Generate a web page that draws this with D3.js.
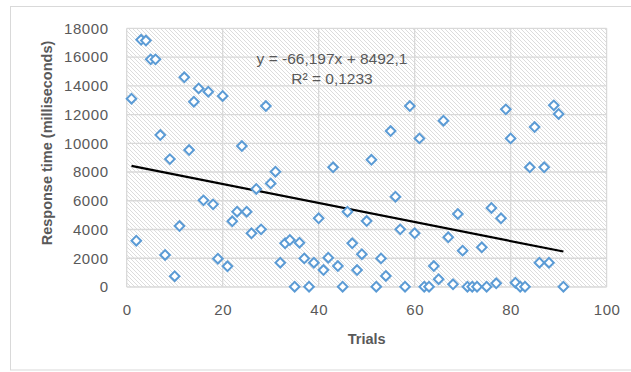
<!DOCTYPE html>
<html>
<head>
<meta charset="utf-8">
<script src="https://cdn.jsdelivr.net/npm/d3@7"></script>
<style>
  body { margin: 0; background: #fff; }
  text { font-family: "Liberation Sans", Arial, sans-serif; fill: #595959; }
</style>
</head>
<body>
<div id="chart"></div>
<script>
let width = 631,
	height = 372;

// trials 1..91 and their response times (ms)
let trials = d3.range(1, 92);
let responseTimes = [
	13100, 3220, 17200, 17150, 15840, 15840, 10575, 2230, 8900, 750,
	4240, 14590, 9530, 12890, 13820, 6030, 13590, 5750, 1970, 13290,
	1440, 4570, 5240, 9810, 5240, 3740, 6820, 4010, 12590, 7210,
	8020, 1690, 3040, 3270, 20, 3080, 1990, 20, 1690, 4780,
	1180, 2040, 8330, 1460, 20, 5240, 3040, 1180, 2280, 4590,
	8850, 20, 1990, 770, 10850, 6280, 4010, 20, 12590, 3740,
	10340, 20, 20, 1460, 540, 11570, 3460, 190, 5080, 2530,
	20, 20, 20, 2760, 20, 5500, 260, 4780, 12360, 10340,
	300, 20, 20, 8330, 11130, 1690, 8330, 1690, 12640, 12040,
	20
];
let xTicks = [0, 20, 40, 60, 80, 100];
let yTicks = [0, 2000, 4000, 6000, 8000, 10000, 12000, 14000, 16000, 18000];

// trendline as printed on the chart
let slope = -66.197,
	intercept = 8492.1;
let eqLabel = "y = -66,197x + 8492,1";
let r2Label = "R² = 0,1233";

let data = trials.map(function (t, i) { return { x: t, y: responseTimes[i] }; });

let plotLeft = 126.7, plotRight = 606.6, plotTop = 28.3, plotBottom = 287;

let x = d3.scaleLinear().domain([0, 100]).range([plotLeft, plotRight]);
let y = d3.scaleLinear().domain([0, 18000]).range([plotBottom, plotTop]);

let svg = d3.select('#chart').append('svg')
	.attr('width', width)
	.attr('height', height);

// hatch fill of the plot area
let defs = svg.append('defs');
defs.append('pattern')
	.attr('id', 'hatch')
	.attr('patternUnits', 'userSpaceOnUse')
	.attr('width', 4)
	.attr('height', 4)
	.append('path')
	.attr('d', 'M-1,-1L5,5M3,-1L5,1M-1,3L1,5')
	.attr('stroke', '#dcdcdc')
	.attr('stroke-width', 1);

// outer chart border
svg.append('rect')
	.attr('x', 10.5).attr('y', 6.5)
	.attr('width', 700).attr('height', 363.5)
	.attr('fill', 'none')
	.attr('stroke', '#d9d9d9');

svg.append('rect')
	.attr('x', plotLeft).attr('y', plotTop)
	.attr('width', plotRight - plotLeft).attr('height', plotBottom - plotTop)
	.attr('fill', 'url(#hatch)');

// gridlines
svg.append('g').selectAll('line')
	.data(yTicks).enter().append('line')
	.attr('x1', plotLeft).attr('x2', plotRight)
	.attr('y1', function (d) { return y(d); })
	.attr('y2', function (d) { return y(d); })
	.attr('stroke', '#d9d9d9').attr('stroke-width', 1.3);

svg.append('g').selectAll('line')
	.data(xTicks).enter().append('line')
	.attr('y1', plotTop).attr('y2', plotBottom)
	.attr('x1', function (d) { return x(d); })
	.attr('x2', function (d) { return x(d); })
	.attr('stroke', '#d9d9d9').attr('stroke-width', 1.3);

// axes (labels only)
let yAxis = d3.axisLeft(y).tickValues(yTicks).tickFormat(d3.format('d')).tickSize(0).tickPadding(18);
let xAxis = d3.axisBottom(x).tickValues(xTicks).tickFormat(d3.format('d')).tickSize(0).tickPadding(17);

svg.append('g').attr('transform', 'translate(' + plotLeft + ',0)').call(yAxis)
	.call(function (g) { g.select('.domain').remove(); });
svg.append('g').attr('transform', 'translate(0,' + plotBottom + ')').call(xAxis)
	.call(function (g) { g.select('.domain').remove(); });

svg.selectAll('.tick text')
	.attr('font-family', '"Liberation Sans", Arial, sans-serif')
	.attr('font-size', 15)
	.attr('letter-spacing', 0.6)
	.attr('fill', '#595959');

// trendline
svg.append('line')
	.attr('x1', x(1)).attr('y1', y(slope * 1 + intercept))
	.attr('x2', x(91)).attr('y2', y(slope * 91 + intercept))
	.attr('stroke', '#000')
	.attr('stroke-width', 2.2);

// markers
let diamond = d3.symbol().type(d3.symbolSquare).size(46);
svg.append('g').selectAll('path')
	.data(data).enter().append('path')
	.attr('d', diamond)
	.attr('transform', function (d) {
		return 'translate(' + x(d.x) + ',' + y(d.y) + ') rotate(45)';
	})
	.attr('fill', '#fff')
	.attr('stroke', '#5b9bd5')
	.attr('stroke-width', 2);

// equation labels
svg.append('text')
	.attr('x', 332).attr('y', 63.5)
	.attr('text-anchor', 'middle')
	.attr('font-size', 15.5)
	.text(eqLabel);
svg.append('text')
	.attr('x', 332).attr('y', 84)
	.attr('text-anchor', 'middle')
	.attr('font-size', 15.5)
	.text(r2Label);

// axis titles
svg.append('text')
	.attr('x', (plotLeft + plotRight) / 2).attr('y', 344)
	.attr('text-anchor', 'middle')
	.attr('font-size', 14.5)
	.attr('font-weight', 'bold')
	.text('Trials');

svg.append('text')
	.attr('transform', 'translate(52,143) rotate(-90)')
	.attr('text-anchor', 'middle')
	.attr('font-size', 14.5)
	.attr('font-weight', 'bold')
	.text('Response time (milliseconds)');
</script>
</body>
</html>
